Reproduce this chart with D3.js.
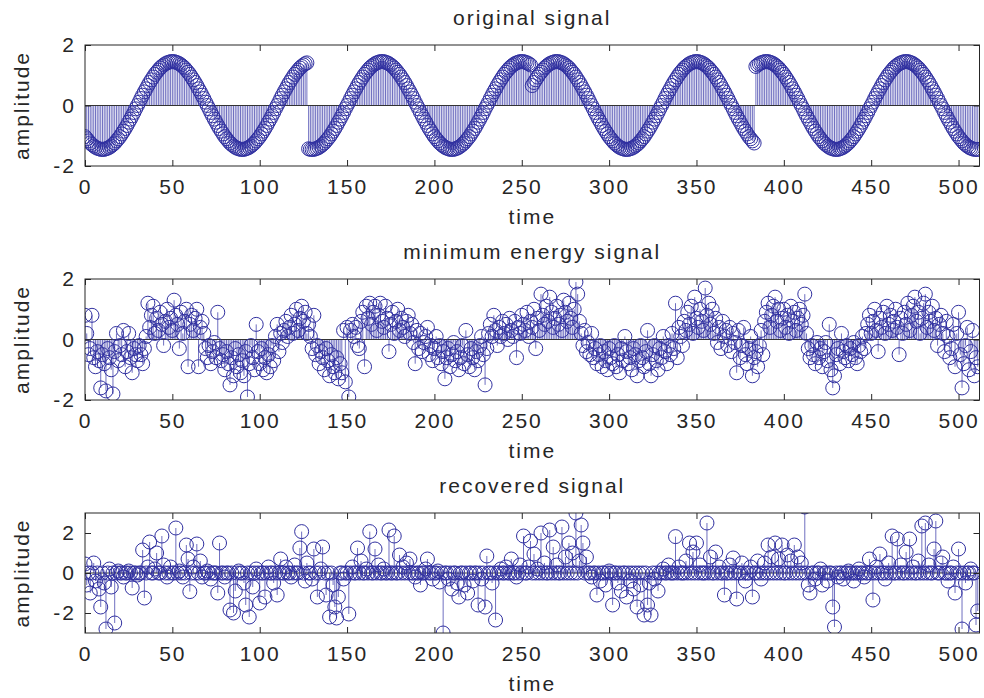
<!DOCTYPE html>
<html>
<head>
<meta charset="utf-8">
<script src="https://cdn.jsdelivr.net/npm/d3@7"></script>
<style>
  body { margin: 0; background: #fff; }
  svg { display: block; font-family: "Liberation Sans", Arial, sans-serif; }
</style>
</head>
<body>
<svg id="chart" width="984" height="698"></svg>
<script>
// x ticks and y ticks
const xTicks = [0, 50, 100, 150, 200, 250, 300, 350, 400, 450, 500]
const yTicks = [-2, 0, 2]

// original signal: sine pieces with phase jumps every 128 samples
const originalSignal = [
    // 0-127
    -1.03,-1.10,-1.17,-1.24,-1.29,-1.34,-1.38,-1.41,-1.43,-1.45,-1.45,
    -1.45,-1.43,-1.41,-1.38,-1.34,-1.29,-1.24,-1.17,-1.10,-1.03,-0.94,-0.85,-0.76,-0.66,-0.55,-0.45,-0.34,-0.23,-0.11,0,
    0.11,0.23,0.34,0.45,0.55,0.66,0.76,0.85,0.94,1.03,1.10,1.17,1.24,1.29,1.34,1.38,1.41,1.43,1.45,
    1.45,1.45,1.43,1.41,1.38,1.34,1.29,1.24,1.17,1.10,1.03,0.94,0.85,0.76,0.66,0.55,0.45,0.34,0.23,0.11,0,
    -0.11,-0.23,-0.34,-0.45,-0.55,-0.66,-0.76,-0.85,-0.94,-1.03,-1.10,-1.17,-1.24,-1.29,-1.34,-1.38,-1.41,-1.43,-1.45,-1.45,
    -1.45,-1.43,-1.41,-1.38,-1.34,-1.29,-1.24,-1.17,-1.10,-1.03,-0.94,-0.85,-0.76,-0.66,-0.55,-0.45,-0.34,-0.23,-0.11,0,
    0.11,0.23,0.34,0.45,0.55,0.66,0.76,0.85,0.94,1.03,1.10,1.17,1.24,1.29,1.34,1.38,1.41,
    // 128-255
    -1.43,-1.45,-1.45,
    -1.45,-1.43,-1.41,-1.38,-1.34,-1.29,-1.24,-1.17,-1.10,-1.03,-0.94,-0.85,-0.76,-0.66,-0.55,-0.45,-0.34,-0.23,-0.11,0,
    0.11,0.23,0.34,0.45,0.55,0.66,0.76,0.85,0.94,1.03,1.10,1.17,1.24,1.29,1.34,1.38,1.41,1.43,1.45,
    1.45,1.45,1.43,1.41,1.38,1.34,1.29,1.24,1.17,1.10,1.03,0.94,0.85,0.76,0.66,0.55,0.45,0.34,0.23,0.11,0,
    -0.11,-0.23,-0.34,-0.45,-0.55,-0.66,-0.76,-0.85,-0.94,-1.03,-1.10,-1.17,-1.24,-1.29,-1.34,-1.38,-1.41,-1.43,-1.45,-1.45,
    -1.45,-1.43,-1.41,-1.38,-1.34,-1.29,-1.24,-1.17,-1.10,-1.03,-0.94,-0.85,-0.76,-0.66,-0.55,-0.45,-0.34,-0.23,-0.11,0,
    0.11,0.23,0.34,0.45,0.55,0.66,0.76,0.85,0.94,1.03,1.10,1.17,1.24,1.29,1.34,1.38,1.41,1.43,1.45,
    1.45,1.45,1.43,1.41,1.38,1.34,
    // 256-383
    0.66,0.76,0.85,0.94,1.03,1.10,1.17,1.24,1.29,1.34,1.38,1.41,1.43,1.45,
    1.45,1.45,1.43,1.41,1.38,1.34,1.29,1.24,1.17,1.10,1.03,0.94,0.85,0.76,0.66,0.55,0.45,0.34,0.23,0.11,0,
    -0.11,-0.23,-0.34,-0.45,-0.55,-0.66,-0.76,-0.85,-0.94,-1.03,-1.10,-1.17,-1.24,-1.29,-1.34,-1.38,-1.41,-1.43,-1.45,-1.45,
    -1.45,-1.43,-1.41,-1.38,-1.34,-1.29,-1.24,-1.17,-1.10,-1.03,-0.94,-0.85,-0.76,-0.66,-0.55,-0.45,-0.34,-0.23,-0.11,0,
    0.11,0.23,0.34,0.45,0.55,0.66,0.76,0.85,0.94,1.03,1.10,1.17,1.24,1.29,1.34,1.38,1.41,1.43,1.45,
    1.45,1.45,1.43,1.41,1.38,1.34,1.29,1.24,1.17,1.10,1.03,0.94,0.85,0.76,0.66,0.55,0.45,0.34,0.23,0.11,0,
    -0.11,-0.23,-0.34,-0.45,-0.55,-0.66,-0.76,-0.85,-0.94,-1.03,-1.10,-1.17,-1.24,
    // 384-511
    1.29,1.34,1.38,1.41,1.43,1.45,
    1.45,1.45,1.43,1.41,1.38,1.34,1.29,1.24,1.17,1.10,1.03,0.94,0.85,0.76,0.66,0.55,0.45,0.34,0.23,0.11,0,
    -0.11,-0.23,-0.34,-0.45,-0.55,-0.66,-0.76,-0.85,-0.94,-1.03,-1.10,-1.17,-1.24,-1.29,-1.34,-1.38,-1.41,-1.43,-1.45,-1.45,
    -1.45,-1.43,-1.41,-1.38,-1.34,-1.29,-1.24,-1.17,-1.10,-1.03,-0.94,-0.85,-0.76,-0.66,-0.55,-0.45,-0.34,-0.23,-0.11,0,
    0.11,0.23,0.34,0.45,0.55,0.66,0.76,0.85,0.94,1.03,1.10,1.17,1.24,1.29,1.34,1.38,1.41,1.43,1.45,
    1.45,1.45,1.43,1.41,1.38,1.34,1.29,1.24,1.17,1.10,1.03,0.94,0.85,0.76,0.66,0.55,0.45,0.34,0.23,0.11,0,
    -0.11,-0.23,-0.34,-0.45,-0.55,-0.66,-0.76,-0.85,-0.94,-1.03,-1.10,-1.17,-1.24,-1.29,-1.34,-1.38,-1.41,-1.43,-1.45,-1.45,
    -1.45
]

const minEnergySignal = [
    0.8,0.2,-0.5,-0.3,0.8,-0.6,-0.9,-0.4,-0.7,-1.6,-0.5,-0.8,-1.7,-0.3,-0.6,-1.0,
    -1.8,-0.4,0.2,-0.7,-0.2,-0.5,0.3,-0.9,-0.4,0.2,-0.6,-1.1,-0.3,-0.5,-0.7,-0.2,
    -0.5,-0.8,-0.3,0.1,1.2,0.4,0.8,1.1,0.2,0.7,0.3,0.9,0.5,-0.2,0.6,1.0,
    0.4,0.7,0.3,1.3,0.8,0.5,-0.3,0.9,0.2,0.6,1.0,-0.9,0.5,0.8,0.3,0.7,
    1.0,-0.9,0.4,0.6,0.2,-0.3,-0.6,-0.2,-0.8,-0.4,-0.1,-0.6,0.9,-0.3,-0.7,-0.5,
    -1.0,-0.4,-0.8,-1.5,-0.6,-1.2,-0.3,-0.9,-0.5,-1.1,-0.7,-1.2,-0.4,-1.9,-0.8,-0.2,
    -0.6,-1.0,0.5,-0.4,-0.8,-0.3,-1.0,-0.6,-1.1,-0.5,-0.9,-0.2,-0.7,0.1,0.5,-0.4,
    0.2,-0.1,0.3,0.6,0.1,0.4,0.8,0.2,0.5,1.0,0.3,0.7,1.1,0.6,0.9,0.2,
    0.5,0.1,-0.3,0.8,-0.5,-0.2,-0.8,-0.4,-0.6,-1.0,-0.3,-0.7,-1.2,-0.5,-0.9,-1.1,
    -0.6,-1.3,-0.8,-1.1,0.3,-1.4,0.4,-1.9,0.3,0.5,0.1,0.4,-0.2,-0.3,0.6,0.9,
    -0.9,1.1,0.7,1.2,0.5,0.9,1.1,0.3,0.8,1.2,0.6,0.4,1.1,0.7,-0.4,0.5,
    0.9,0.2,0.6,1.0,0.3,0.7,0.4,0.1,0.6,0.8,0.2,0.5,-0.1,-0.8,0.3,-0.3,
    0.2,-0.4,-0.1,0.1,0.4,-0.5,-0.2,-0.7,-0.3,0.1,-0.6,-0.2,-0.8,-0.4,-1.3,-0.6,
    -0.3,-0.9,-0.5,-0.1,-0.7,-0.4,-1.0,-0.6,-0.2,-0.8,0.3,-0.5,-0.9,-0.3,-0.6,-1.0,
    -0.4,-0.7,-0.2,0.1,-0.5,-1.5,-0.3,0.2,0.5,0.1,0.8,0.3,-0.2,0.4,0.1,0.6,
    0.2,0.5,0.0,0.7,0.3,0.1,0.6,-0.6,0.4,0.2,0.8,0.5,0.3,0.9,0.1,0.6,
    0.4,1.0,-0.3,0.7,0.3,1.5,0.8,0.5,1.1,0.6,1.4,0.9,0.4,0.7,1.1,0.5,
    0.8,0.3,1.3,0.9,0.6,1.2,0.7,0.4,1.0,1.9,1.5,0.6,0.2,-0.2,0.3,-0.4,
    -0.1,-0.5,0.2,-0.6,-0.3,-0.8,-0.5,-0.2,-0.9,-0.4,-0.7,-1.0,-0.3,-0.6,-0.8,-0.2,
    -0.9,-0.5,-1.1,-0.3,-0.7,0.1,-0.4,-0.8,-0.6,-1.0,-0.3,-0.5,-1.2,-0.7,-0.2,-0.6,
    -0.9,-0.4,0.3,-0.8,-1.2,-0.5,-0.2,-0.7,-1.0,-0.3,-0.6,0.1,-0.4,-0.8,-0.2,-0.5,
    0.2,-0.3,1.2,-0.6,0.4,0.1,-0.2,0.6,0.3,0.9,0.5,1.1,0.2,1.4,0.7,0.4,
    1.0,0.6,0.3,1.7,0.8,1.2,0.5,1.0,0.2,0.7,-0.1,0.4,-0.3,0.6,0.1,0.3,
    -0.2,0.4,-0.4,0.2,-0.1,-1.1,0.3,-0.6,-0.2,0.4,-0.5,-0.8,-0.3,0.1,-1.2,-0.6,
    -0.4,-0.9,-0.2,0.3,-0.5,0.6,0.9,1.2,0.4,0.8,1.1,1.4,0.6,1.0,0.3,0.7,
    1.0,0.4,0.8,0.2,1.1,0.6,0.9,0.3,0.7,1.0,0.5,0.8,1.5,0.2,-0.3,-0.6,
    -0.2,-0.5,-0.8,-0.1,-0.6,-0.3,-0.9,-0.4,-0.1,-0.7,0.5,-1.0,-1.6,-1.2,-0.5,-0.3,
    -0.8,0.2,-0.4,-0.6,-0.2,-0.7,-0.3,-0.5,-0.1,-0.6,-0.8,-0.2,-0.4,0.1,-0.3,0.2,
    0.5,0.8,0.2,0.6,1.0,0.3,-0.4,0.7,0.4,0.9,0.2,1.1,0.5,0.8,0.3,0.6,
    1.0,0.4,-0.5,0.7,0.2,0.9,0.5,1.2,0.3,0.8,1.1,1.4,0.6,0.9,0.2,0.7,
    1.2,1.5,0.4,0.9,0.6,1.1,0.3,0.7,-0.2,0.5,0.8,0.2,-0.4,0.6,0.1,-0.6,
    -0.3,0.5,-0.9,0.2,0.9,-0.5,-1.6,-0.8,-0.2,0.4,-1.0,-0.4,0.3,-1.2,-0.6,-0.9
]

const recoveredSignal = [
    0.45,-0.6,0,-1.0,0,0.5,-0.4,0,-0.8,-1.7,0,-0.5,-2.8,0,0.2,-0.7,
    0,-2.5,0,0.1,0,0,-0.2,0,0,0.1,0,-0.75,0,0,-0.1,0,
    0,1.15,-1.25,0,0.3,1.55,0,0,0.2,1.0,0,0,1.85,0.4,0,-0.2,
    0,0.3,0,0,2.25,0,0.1,0,-0.2,0,1.4,0.7,-0.93,0,0.3,0,
    1.45,0,0.6,-0.2,0,0,0.1,0,-0.3,0,0,0,-1.0,1.5,0,0,
    -0.2,0,0,-1.85,0,-2.0,-0.9,0,0.1,0,0,-0.5,-1.6,0,-2.2,0,
    -0.7,0,0.2,0,-1.5,0,0,-1.2,0,0.3,0,0,-0.5,0,-1.1,0,
    0.7,0,0,0.3,0,0,-0.2,0,0.4,0,0,1.25,2.07,0,-0.4,0.5,
    0,0,-0.3,1.2,0,-1.2,0,0.2,1.3,0,-1.1,0,-2.2,0,-0.6,-1.7,
    -2.25,-1.2,0,0,-0.3,0,0,-2.05,0,0.3,0,0,1.25,0,0.6,0,
    0,0.2,0,2.07,0,0,1.2,0,0.4,0,0,0.2,0,0,2.15,0,
    0,1.85,0,0,0.9,0,0.3,0,0.5,0,0.7,0,0,-0.2,0,0,
    -0.6,0,0,0.2,0.7,0,0,-0.3,0,0,0.1,-0.45,0,-3.0,0,0,
    -0.3,0,-0.8,0,0,-0.5,-1.2,0,0,-0.6,0,-1.0,0,0,-0.4,0,
    0,-1.6,0,-0.3,0,-1.7,0.85,0,0,-0.5,0,-2.35,0,0,0.2,0,
    0,0.3,0,0,0.7,0,0,-0.2,0,0.4,0,1.85,0,0,0.3,1.6,
    0,0.95,0,0.2,0,2.0,0,0.5,0,0,2.15,0,1.3,0,0.4,0,
    0,2.3,0,0.8,0,1.5,0,1.0,0,3.0,0,0.6,2.4,1.5,0,0.8,
    0,0,-0.2,0,0,-1.1,0,-0.4,0,0,-0.6,0,0.1,0,-1.6,0,
    0,-0.5,0,-0.9,0,0,-1.2,0,-0.4,0,-0.8,0,-1.7,0,-0.6,0,
    -2.1,0,-1.6,-0.5,-2.1,0,-0.3,0,-0.9,0,0,0.2,0,0,0.4,0,
    0,0,1.82,0,0.3,0,0,0,0.6,0,1.5,0,1.05,0,1.5,0,
    0.4,0,0,0,2.5,0,0.8,0,0,1.05,0,0.3,0,0,-1.1,0,
    0,0.4,0,0.75,0,-1.3,0,0,0.5,0,-0.4,0,0,0.3,-1.2,0,
    0,0.6,0,-0.3,0,0.5,0,1.4,0,0.8,0,1.5,0,0.7,0,1.4,
    0,0,0.9,0,0.6,0,1.4,0,0.8,0,0.5,0,3.3,0,-0.6,-1.0,
    0,0,-0.3,0,0,0.2,-0.6,0,0,-0.4,0,0,-1.7,-2.7,0,-0.2,
    0,0,-0.3,0,0,0.1,0,0,-0.4,0,0,0.2,0,0,-0.2,0,
    0,0.7,0,-1.35,0,0.3,0,0.95,0,0,-0.3,0,0.5,0,1.85,0,
    0,1.7,0,0.4,0,0,1.05,0,1.7,0,0.3,0,0,0.6,0,2.35,
    0,2.5,0,0.4,0,0,1.2,2.6,0,0,0.5,0.8,0,0,-0.4,0,
    0,0.3,-1.0,0,1.2,0,-2.8,0,-0.5,0,0,0.2,0,0,-2.6,-1.9
]

const panels = [
    { title: 'original signal', values: originalSignal, yDomain: [-2, 2], top: 45, bottom: 166 },
    { title: 'minimum energy signal', values: minEnergySignal, yDomain: [-2, 2], top: 279, bottom: 400 },
    { title: 'recovered signal', values: recoveredSignal, yDomain: [-3, 3], top: 513, bottom: 633 }
]

const left = 85
const right = 979.5
const markColor = '#3030a0'
const stemColor = '#4a4ab0'
const textColor = '#262626'
const fontSize = 21

const svg = d3.select('#chart')
const x = d3.scaleLinear().domain([0, 512]).range([left, right])

panels.forEach((p, i) => {
    if (p.values.length !== 512) throw new Error(`${p.title}: ${p.values.length}`)
    const y = d3.scaleLinear().domain(p.yDomain).range([p.bottom, p.top])
    const g = svg.append('g')

    svg.append('clipPath').attr('id', `clip${i}`)
        .append('rect')
        .attr('x', left).attr('y', p.top)
        .attr('width', right - left).attr('height', p.bottom - p.top)

    const plot = g.append('g').attr('clip-path', `url(#clip${i})`)

    plot.selectAll('line.stem')
        .data(p.values)
        .enter()
        .append('line')
        .attr('class', 'stem')
        .attr('x1', (d, n) => x(n))
        .attr('x2', (d, n) => x(n))
        .attr('y1', y(0))
        .attr('y2', d => y(d))
        .attr('stroke', stemColor)
        .attr('stroke-width', 0.8)

    plot.append('line')
        .attr('x1', left).attr('x2', right)
        .attr('y1', y(0)).attr('y2', y(0))
        .attr('stroke', '#333')
        .attr('stroke-width', 1)

    plot.selectAll('circle')
        .data(p.values)
        .enter()
        .append('circle')
        .attr('cx', (d, n) => x(n))
        .attr('cy', d => y(d))
        .attr('r', 7)
        .attr('fill', 'none')
        .attr('stroke', markColor)
        .attr('stroke-width', 1)

    // axes with inward ticks on all four sides
    const fmt = d => String(d)
    const bottomAxis = g.append('g')
        .attr('transform', `translate(0,${p.bottom})`)
        .call(d3.axisBottom(x).tickValues(xTicks).tickSize(-6).tickPadding(13.5).tickFormat(fmt))
    const leftAxis = g.append('g')
        .attr('transform', `translate(${left},0)`)
        .call(d3.axisLeft(y).tickValues(yTicks).tickSize(-6).tickPadding(9).tickFormat(fmt))
    g.append('g')
        .attr('transform', `translate(0,${p.top})`)
        .call(d3.axisTop(x).tickValues(xTicks).tickSize(-6).tickFormat(''))
    g.append('g')
        .attr('transform', `translate(${right},0)`)
        .call(d3.axisRight(y).tickValues(yTicks).tickSize(-6).tickFormat(''))

    g.selectAll('.domain').remove()
    g.selectAll('.tick line').attr('stroke', textColor)
    ;[bottomAxis, leftAxis].forEach(a => a
        .attr('font-family', null)
        .attr('font-size', null)
        .selectAll('text')
        .attr('fill', textColor)
        .style('font-size', `${fontSize}px`)
        .style('letter-spacing', '2px'))

    g.append('rect')
        .attr('x', left).attr('y', p.top)
        .attr('width', right - left).attr('height', p.bottom - p.top)
        .attr('fill', 'none')
        .attr('stroke', textColor)
        .attr('stroke-width', 1)

    g.append('text')
        .attr('x', (left + right) / 2)
        .attr('y', p.top - 20)
        .attr('text-anchor', 'middle')
        .attr('fill', textColor)
        .style('font-size', `${fontSize}px`)
        .style('letter-spacing', '2px')
        .text(p.title)

    g.append('text')
        .attr('x', (left + right) / 2)
        .attr('y', p.bottom + 58)
        .attr('text-anchor', 'middle')
        .attr('fill', textColor)
        .style('font-size', `${fontSize}px`)
        .style('letter-spacing', '2px')
        .text('time')

    g.append('text')
        .attr('transform', `translate(29,${(p.top + p.bottom) / 2}) rotate(-90)`)
        .attr('text-anchor', 'middle')
        .attr('fill', textColor)
        .style('font-size', `${fontSize}px`)
        .style('letter-spacing', '2px')
        .text('amplitude')
})
</script>
</body>
</html>
